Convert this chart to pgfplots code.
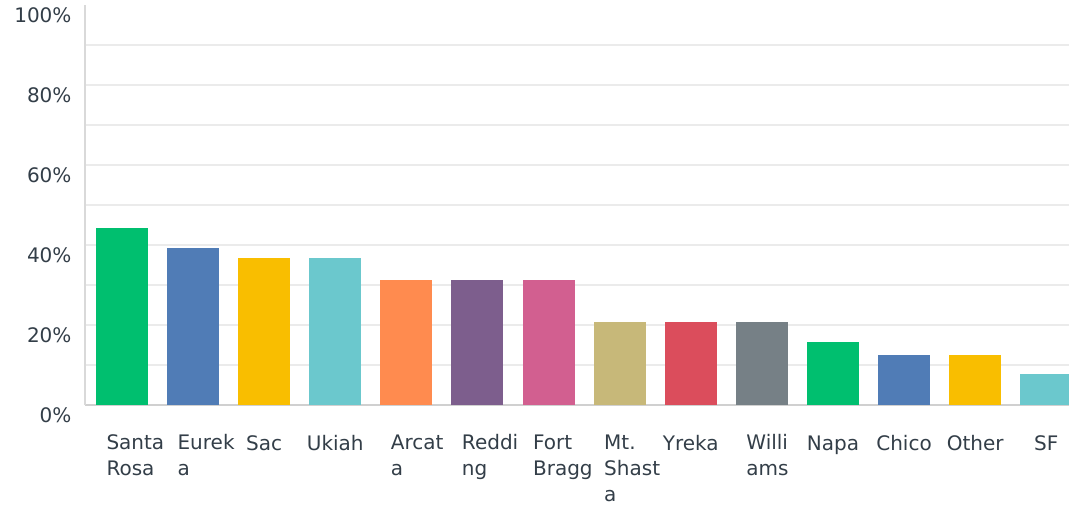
\documentclass[border=0pt]{standalone}
\usepackage{pgfplots}
\pgfplotsset{compat=1.18}
\usepackage{fontspec}
\setmainfont{DejaVu Sans}
\definecolor{txt}{HTML}{333E48}
\definecolor{gridgray}{HTML}{EBEBEB}
\definecolor{axgray}{HTML}{D0D0D0}
\definecolor{cgreen}{HTML}{00BF6F}
\definecolor{cblue}{HTML}{507CB6}
\definecolor{cyellow}{HTML}{F9BE00}
\definecolor{cteal}{HTML}{6BC8CD}
\definecolor{corange}{HTML}{FF8B4F}
\definecolor{cpurple}{HTML}{7D5E8D}
\definecolor{cpink}{HTML}{D25F90}
\definecolor{ckhaki}{HTML}{C7B879}
\definecolor{cred}{HTML}{DB4D5C}
\definecolor{cgray}{HTML}{768086}
\begin{document}
\begin{tikzpicture}
\begin{axis}[
  at={(85pt,103pt)}, anchor=south west,
  scale only axis, width=984pt, height=400pt,
  xmin=-0.52, xmax=13.32, ymin=0, ymax=100,
  axis x line*=bottom, axis y line*=left,
  x axis line style={draw=axgray, line width=2pt, -},
  y axis line style={draw=axgray!80, line width=2pt, -},
  ybar, bar width=52pt, bar shift=0pt,
  % one-line labels, centred under their bars
  xtick={2,3,8,10,11,12,13},
  xticklabels={Sac,Ukiah,Yreka,Napa,Chico,Other,SF},
  xticklabel style={align=left, anchor=north, yshift=-24pt,
    font=\fontsize{20}{26}\selectfont, text=txt, execute at begin node={\strut}},
  % wrapped labels, left-aligned near the bar's left edge
  extra x ticks={0,1,4,5,6,7,9},
  extra x tick labels={{Santa\\Rosa},{Eurek\\a},{Arcat\\a},{Reddi\\ng},{Fort\\Bragg},{Mt.\\Shast\\a},{Willi\\ams}},
  extra x tick style={xticklabel style={anchor=north west, xshift=-19pt, yshift=-2pt,
    execute at begin node={\strut}}},
  ytick={0,20,...,100},
  yticklabel={\pgfmathprintnumber{\tick}\%},
  yticklabel style={font=\fontsize{20}{24}\selectfont, text=txt, xshift=-10pt, yshift=-10pt},
  /pgf/number format/assume math mode=true,
  major tick length=0pt, minor tick length=0pt,
  minor ytick={10,20,...,90}, yminorgrids=true,
  minor grid style={draw=gridgray, line width=1.5pt},
  every axis plot/.append style={draw=none},
]
\addplot[fill=cgreen]  coordinates {(0,44.2)};
\addplot[fill=cblue]   coordinates {(1,39.2)};
\addplot[fill=cyellow] coordinates {(2,36.7)};
\addplot[fill=cteal]   coordinates {(3,36.7)};
\addplot[fill=corange] coordinates {(4,31.2)};
\addplot[fill=cpurple] coordinates {(5,31.2)};
\addplot[fill=cpink]   coordinates {(6,31.2)};
\addplot[fill=ckhaki]  coordinates {(7,20.7)};
\addplot[fill=cred]    coordinates {(8,20.7)};
\addplot[fill=cgray]   coordinates {(9,20.7)};
\addplot[fill=cgreen]  coordinates {(10,15.7)};
\addplot[fill=cblue]   coordinates {(11,12.6)};
\addplot[fill=cyellow] coordinates {(12,12.6)};
\addplot[fill=cteal]   coordinates {(13,7.7)};
\end{axis}
\pgfresetboundingbox
\path (0,0) rectangle (1069pt,508pt);
\end{tikzpicture}
\end{document}
